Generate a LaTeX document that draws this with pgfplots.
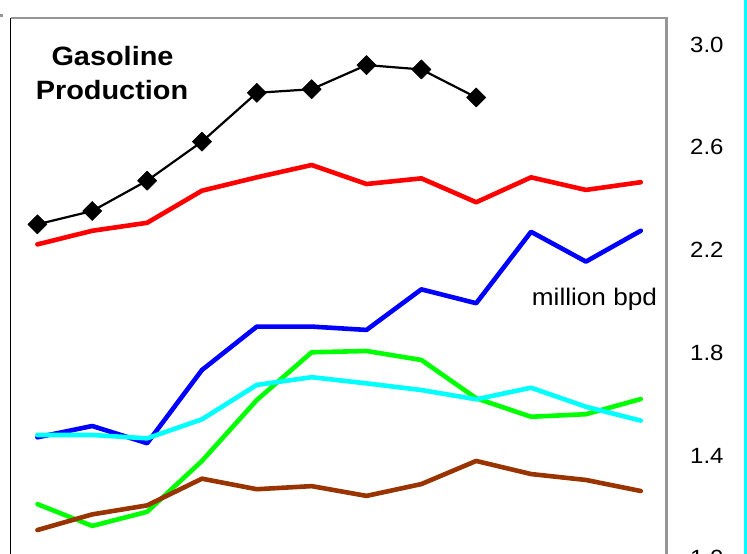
\documentclass[border=0pt]{standalone}
\usepackage{fontspec}
\setmainfont{Liberation Sans}[FakeStretch=1.09]
\usepackage{pgfplots}
\pgfplotsset{compat=1.18}
\definecolor{xlbrown}{RGB}{153,51,0}
\definecolor{xlgray}{RGB}{150,150,150}
\definecolor{xlred}{RGB}{255,0,0}
\definecolor{xlblue}{RGB}{0,0,255}
\definecolor{xlgreen}{RGB}{0,255,0}
\definecolor{xlcyan}{RGB}{0,255,255}
\begin{document}
\begin{tikzpicture}[x=1pt,y=1pt]
\begin{axis}[
  at={(10.7pt,-584pt)}, anchor=south west,
  scale only axis, width=656pt, height=566.2pt,
  xmin=-0.487, xmax=11.473, ymin=0.9, ymax=3.104,
  axis line style={draw=none},
  clip=false,
  xtick=\empty,
  ytick={1.0,1.4,1.8,2.2,2.6,3.0},
  yticklabel pos=right,
  major tick length=0pt,
  tick style={draw=none},
  /pgf/number format/assume math mode=true,
  yticklabel style={/pgf/number format/.cd,fixed,fixed zerofill,precision=1,/tikz/.cd,
     anchor=west, inner sep=0pt, xshift=23.3pt,
     font=\fontsize{22}{26}\selectfont},
  every axis plot/.append style={line cap=round, line join=round},
]
% frame lines
\draw[black, line width=1.5pt] (rel axis cs:0,0) -- (rel axis cs:0,1);
\draw[xlgray, line width=2.5pt] (rel axis cs:0,1) -- (rel axis cs:1,1) -- (rel axis cs:1,0);
% blue
\addplot[xlblue, line width=4.6pt, mark=none] coordinates {
(0,1.471)(1,1.515)(2,1.448)(3,1.733)(4,1.902)(5,1.902)(6,1.889)(7,2.047)(8,1.993)(9,2.271)(10,2.155)(11,2.275)};
% green
\addplot[xlgreen, line width=4.6pt, mark=none] coordinates {
(0,1.211)(1,1.126)(2,1.181)(3,1.379)(4,1.616)(5,1.802)(6,1.807)(7,1.772)(8,1.623)(9,1.551)(10,1.561)(11,1.620)};
% cyan
\addplot[xlcyan, line width=4.6pt, mark=none] coordinates {
(0,1.480)(1,1.480)(2,1.467)(3,1.541)(4,1.675)(5,1.705)(6,1.681)(7,1.655)(8,1.619)(9,1.664)(10,1.590)(11,1.536)};
% brown
\addplot[xlbrown, line width=4.6pt, mark=none] coordinates {
(0,1.110)(1,1.171)(2,1.206)(3,1.310)(4,1.269)(5,1.281)(6,1.243)(7,1.289)(8,1.379)(9,1.328)(10,1.305)(11,1.262)};
% red
\addplot[xlred, line width=4.6pt, mark=none] coordinates {
(0,2.222)(1,2.275)(2,2.306)(3,2.431)(4,2.483)(5,2.531)(6,2.457)(7,2.479)(8,2.386)(9,2.483)(10,2.434)(11,2.464)};
% black with diamonds
\addplot[black, line width=2.2pt, mark=square*, mark size=6.8pt,
  mark options={rotate=45, fill=black, line width=0.5pt}] coordinates {
(0,2.300)(1,2.352)(2,2.470)(3,2.622)(4,2.812)(5,2.826)(6,2.920)(7,2.903)(8,2.794)};
\end{axis}
\node[anchor=base, inner sep=0pt, font=\fontsize{26.5}{30}\selectfont\bfseries] at (112.5pt,-65pt) {Gasoline};
\node[anchor=base, inner sep=0pt, font=\fontsize{26.5}{30}\selectfont\bfseries] at (112pt,-99.3pt) {Production};
\node[anchor=base west, inner sep=0pt, font=\fontsize{24}{28}\selectfont] at (531.7pt,-305pt) {million bpd};
\fill[xlcyan] (744pt,0pt) rectangle (747pt,-554pt);
\fill[xlgray] (0pt,-14pt) rectangle (3pt,-16.5pt);
\pgfresetboundingbox
\path[use as bounding box] (0pt,0pt) rectangle (747pt,-554pt);
\end{tikzpicture}
\end{document}
